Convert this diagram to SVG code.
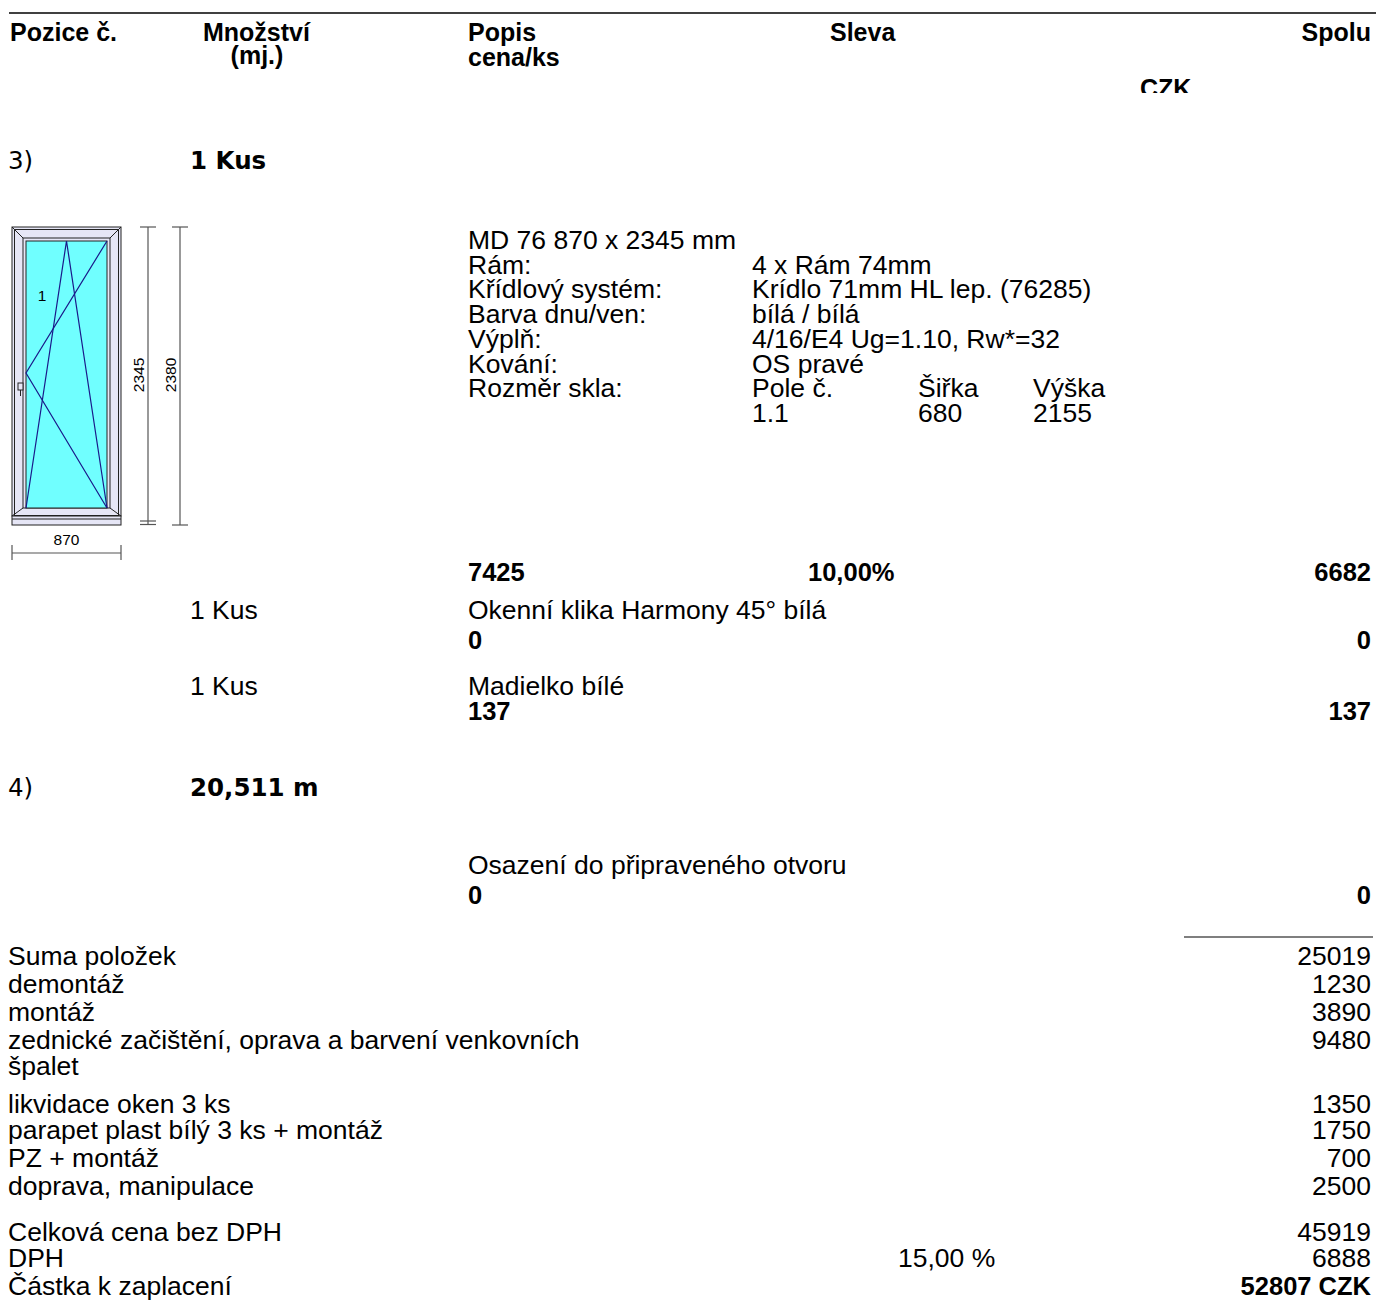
<svg xmlns="http://www.w3.org/2000/svg" width="1376" height="1310" viewBox="0 0 1376 1310">
<style>
.h{font-family:"Liberation Sans",Arial,sans-serif;font-size:25px;font-weight:bold;fill:#000}
.t{font-family:"Liberation Sans",Arial,sans-serif;font-size:26.5px;fill:#000}
.b{font-family:"Liberation Sans",Arial,sans-serif;font-size:25.5px;font-weight:bold;fill:#000}
.q{font-family:"DejaVu Sans",sans-serif;font-size:24.5px;fill:#000}
.qb{font-family:"DejaVu Sans",sans-serif;font-size:24.5px;font-weight:bold;fill:#000}
.r{text-anchor:end}
.s{font-family:"Liberation Sans",Arial,sans-serif;font-size:15.5px;fill:#000}
.dim{stroke:#555;stroke-width:1.2;fill:none}
.fr{fill:#e6e6f6;stroke:#222;stroke-width:1}
.ln{stroke:#222;stroke-width:1;fill:none}
.gl{stroke:#1a1a8a;stroke-width:1.2;fill:none}
</style>
<defs>
<clipPath id="czkclip"><rect x="1100" y="60" width="200" height="33"/></clipPath>
</defs>
<rect width="1376" height="1310" fill="#fff"/>

<g id="header">
<line x1="9" y1="13" x2="1376" y2="13" stroke="#000" stroke-width="1.5"/>
<text class="h" x="10" y="41">Pozice č.</text>
<text class="h" x="203" y="41">Množství</text>
<text class="h" x="257" y="64" text-anchor="middle">(mj.)</text>
<text class="h" x="468" y="41">Popis</text>
<text class="h" x="468" y="66">cena/ks</text>
<text class="h" x="830" y="41">Sleva</text>
<text class="h r" x="1371" y="41">Spolu</text>
<text class="h" x="1140" y="97" clip-path="url(#czkclip)">CZK</text>
</g>

<g id="pos3">
<text class="q" x="8" y="169">3)</text>
<text class="qb" x="190" y="169">1 Kus</text>
</g>

<g id="window">
<rect class="fr" x="12" y="227" width="109" height="289"/>
<rect class="ln" x="14.5" y="229.5" width="104" height="286"/>
<rect class="ln" x="23" y="238" width="87" height="270"/>
<line class="ln" x1="12" y1="227" x2="23" y2="238"/>
<line class="ln" x1="121" y1="227" x2="110" y2="238"/>
<line class="ln" x1="12" y1="516" x2="23" y2="508"/>
<line class="ln" x1="121" y1="516" x2="110" y2="508"/>
<rect x="26" y="241" width="81" height="267" fill="#70ffff" stroke="#222" stroke-width="1"/>
<rect class="fr" x="12" y="516" width="109" height="9"/>
<line class="ln" x1="12" y1="519" x2="121" y2="519"/>
<rect x="18" y="383" width="5" height="7" fill="#e6e6f6" stroke="#222" stroke-width="1"/>
<line class="ln" x1="20.5" y1="390" x2="20.5" y2="396"/>
<polyline class="gl" points="26,508 66.5,241 107,508"/>
<polyline class="gl" points="107,241 26,373 107,508"/>
<text class="s" x="42" y="301" text-anchor="middle">1</text>
</g>

<g id="dimensions">
<line class="dim" x1="148" y1="227" x2="148" y2="524"/>
<line class="dim" x1="140" y1="227" x2="156" y2="227"/>
<line class="dim" x1="140" y1="521" x2="156" y2="521"/>
<line class="dim" x1="140" y1="524.5" x2="156" y2="524.5"/>
<line class="dim" x1="180" y1="227" x2="180" y2="525"/>
<line class="dim" x1="172" y1="227" x2="188" y2="227"/>
<line class="dim" x1="172" y1="525" x2="188" y2="525"/>
<text class="s" transform="translate(144,375) rotate(-90)" text-anchor="middle">2345</text>
<text class="s" transform="translate(176,375) rotate(-90)" text-anchor="middle">2380</text>
<line class="dim" x1="12" y1="553" x2="121" y2="553"/>
<line class="dim" x1="12" y1="545" x2="12" y2="560"/>
<line class="dim" x1="121" y1="545" x2="121" y2="560"/>
<text class="s" x="66.5" y="545" text-anchor="middle">870</text>
</g>

<g id="description">
<text class="t" x="468" y="249">MD 76 870 x 2345 mm</text>
<text class="t" x="468" y="273.7">Rám:</text>
<text class="t" x="752" y="273.7">4 x Rám 74mm</text>
<text class="t" x="468" y="298.4">Křídlový systém:</text>
<text class="t" x="752" y="298.4">Krídlo 71mm HL lep. (76285)</text>
<text class="t" x="468" y="323.1">Barva dnu/ven:</text>
<text class="t" x="752" y="323.1">bílá / bílá</text>
<text class="t" x="468" y="347.8">Výplň:</text>
<text class="t" x="752" y="347.8">4/16/E4 Ug=1.10, Rw*=32</text>
<text class="t" x="468" y="372.5">Kování:</text>
<text class="t" x="752" y="372.5">OS pravé</text>
<text class="t" x="468" y="397.2">Rozměr skla:</text>
<text class="t" x="752" y="397.2">Pole č.</text>
<text class="t" x="918" y="397.2">Šiřka</text>
<text class="t" x="1033" y="397.2">Výška</text>
<text class="t" x="752" y="421.9">1.1</text>
<text class="t" x="918" y="421.9">680</text>
<text class="t" x="1033" y="421.9">2155</text>
</g>

<g id="price3">
<text class="b" x="468" y="581">7425</text>
<text class="b" x="808" y="581">10,00%</text>
<text class="b r" x="1371" y="581">6682</text>
</g>

<g id="acc1">
<text class="t" x="190" y="619">1 Kus</text>
<text class="t" x="468" y="619">Okenní klika Harmony 45° bílá</text>
<text class="b" x="468" y="649">0</text>
<text class="b r" x="1371" y="649">0</text>
</g>

<g id="acc2">
<text class="t" x="190" y="695">1 Kus</text>
<text class="t" x="468" y="695">Madielko bílé</text>
<text class="b" x="468" y="720">137</text>
<text class="b r" x="1371" y="720">137</text>
</g>

<g id="pos4">
<text class="q" x="8" y="796">4)</text>
<text class="qb" x="190" y="796">20,511 m</text>
<text class="t" x="468" y="874">Osazení do připraveného otvoru</text>
<text class="b" x="468" y="904">0</text>
<text class="b r" x="1371" y="904">0</text>
</g>

<g id="summary">
<line x1="1184" y1="937" x2="1373" y2="937" stroke="#000" stroke-width="1.2"/>
<text class="t" x="8" y="965">Suma položek</text>
<text class="t r" x="1371" y="965">25019</text>
<text class="t" x="8" y="993">demontáž</text>
<text class="t r" x="1371" y="993">1230</text>
<text class="t" x="8" y="1021">montáž</text>
<text class="t r" x="1371" y="1021">3890</text>
<text class="t" x="8" y="1049">zednické začištění, oprava a barvení venkovních</text>
<text class="t r" x="1371" y="1049">9480</text>
<text class="t" x="8" y="1075">špalet</text>
<text class="t" x="8" y="1113">likvidace oken 3 ks</text>
<text class="t r" x="1371" y="1113">1350</text>
<text class="t" x="8" y="1139">parapet plast bílý 3 ks + montáž</text>
<text class="t r" x="1371" y="1139">1750</text>
<text class="t" x="8" y="1167">PZ + montáž</text>
<text class="t r" x="1371" y="1167">700</text>
<text class="t" x="8" y="1195">doprava, manipulace</text>
<text class="t r" x="1371" y="1195">2500</text>
<text class="t" x="8" y="1241">Celková cena bez DPH</text>
<text class="t r" x="1371" y="1241">45919</text>
<text class="t" x="8" y="1267">DPH</text>
<text class="t" x="898" y="1267">15,00 %</text>
<text class="t r" x="1371" y="1267">6888</text>
<text class="t" x="8" y="1295">Částka k zaplacení</text>
<text class="b r" x="1371" y="1295">52807 CZK</text>
</g>
</svg>
